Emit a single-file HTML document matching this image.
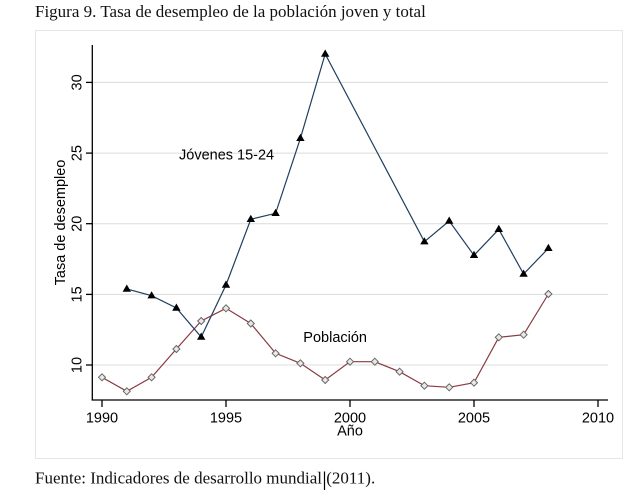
<!DOCTYPE html>
<html><head><meta charset="utf-8"><style>
html,body{margin:0;padding:0;background:#fff;}
svg{display:block;}
</style></head><body>
<svg width="644" height="495" viewBox="0 0 644 495" xmlns="http://www.w3.org/2000/svg">
<rect width="644" height="495" fill="#fff"/>
<text x="35" y="17" font-family="Liberation Serif, serif" font-size="17" fill="#111">Figura 9. Tasa de desempleo de la población joven y total</text>
<rect x="35.5" y="30.5" width="587" height="428" fill="#fff" stroke="#e6e6e6" stroke-width="1"/>
<!-- gridlines -->
<g stroke="#dcdcdc" stroke-width="1">
<line x1="92" y1="82.4" x2="608" y2="82.4"/>
<line x1="92" y1="153.1" x2="608" y2="153.1"/>
<line x1="92" y1="223.7" x2="608" y2="223.7"/>
<line x1="92" y1="294.4" x2="608" y2="294.4"/>
<line x1="92" y1="365" x2="608" y2="365"/>
</g>
<!-- axes -->
<g stroke="#000" stroke-width="1.3">
<line x1="92.3" y1="45" x2="92.3" y2="400.5"/>
<line x1="91.7" y1="400" x2="608" y2="400"/>
<line x1="86" y1="82.4" x2="92" y2="82.4"/>
<line x1="86" y1="153.1" x2="92" y2="153.1"/>
<line x1="86" y1="223.7" x2="92" y2="223.7"/>
<line x1="86" y1="294.4" x2="92" y2="294.4"/>
<line x1="86" y1="365" x2="92" y2="365"/>
<line x1="102" y1="400" x2="102" y2="407"/>
<line x1="226" y1="400" x2="226" y2="407"/>
<line x1="350" y1="400" x2="350" y2="407"/>
<line x1="474" y1="400" x2="474" y2="407"/>
<line x1="598" y1="400" x2="598" y2="407"/>
</g>
<g font-family="Liberation Sans, sans-serif" font-size="14.5" fill="#000">
<text transform="translate(81.5,82.4) rotate(-90)" text-anchor="middle">30</text>
<text transform="translate(81.5,153.1) rotate(-90)" text-anchor="middle">25</text>
<text transform="translate(81.5,223.7) rotate(-90)" text-anchor="middle">20</text>
<text transform="translate(81.5,294.4) rotate(-90)" text-anchor="middle">15</text>
<text transform="translate(81.5,365) rotate(-90)" text-anchor="middle">10</text>
<text transform="translate(65,222.5) rotate(-90)" text-anchor="middle">Tasa de desempleo</text>
<text x="102" y="422.3" text-anchor="middle">1990</text>
<text x="226" y="422.3" text-anchor="middle">1995</text>
<text x="350" y="422.3" text-anchor="middle">2000</text>
<text x="474" y="422.3" text-anchor="middle">2005</text>
<text x="598" y="422.3" text-anchor="middle">2010</text>
<text x="350" y="435.5" text-anchor="middle">Año</text>
<text x="179" y="159.5">Jóvenes 15-24</text>
<text x="303.3" y="342">Población</text>
</g>
<!-- Poblacion series -->
<polyline fill="none" stroke="#8a3a40" stroke-width="1.2" points="102,377.3 126.8,391.3 151.6,377.3 176.4,349 201.2,321 226,308.3 250.8,323.5 275.6,353.3 300.4,363.3 325.2,380 350,361.7 374.8,361.7 399.6,371.7 424.4,385.7 449.2,387.3 474,382.7 498.8,337.3 523.6,334.7 548.4,294"/>
<g fill="#e8e8e8" stroke="#666" stroke-width="1">
<path d="M102,373.8 l3.5,3.5 l-3.5,3.5 l-3.5,-3.5z"/>
<path d="M126.8,387.8 l3.5,3.5 l-3.5,3.5 l-3.5,-3.5z"/>
<path d="M151.6,373.8 l3.5,3.5 l-3.5,3.5 l-3.5,-3.5z"/>
<path d="M176.4,345.5 l3.5,3.5 l-3.5,3.5 l-3.5,-3.5z"/>
<path d="M201.2,317.5 l3.5,3.5 l-3.5,3.5 l-3.5,-3.5z"/>
<path d="M226,304.8 l3.5,3.5 l-3.5,3.5 l-3.5,-3.5z"/>
<path d="M250.8,320 l3.5,3.5 l-3.5,3.5 l-3.5,-3.5z"/>
<path d="M275.6,349.8 l3.5,3.5 l-3.5,3.5 l-3.5,-3.5z"/>
<path d="M300.4,359.8 l3.5,3.5 l-3.5,3.5 l-3.5,-3.5z"/>
<path d="M325.2,376.5 l3.5,3.5 l-3.5,3.5 l-3.5,-3.5z"/>
<path d="M350,358.2 l3.5,3.5 l-3.5,3.5 l-3.5,-3.5z"/>
<path d="M374.8,358.2 l3.5,3.5 l-3.5,3.5 l-3.5,-3.5z"/>
<path d="M399.6,368.2 l3.5,3.5 l-3.5,3.5 l-3.5,-3.5z"/>
<path d="M424.4,382.2 l3.5,3.5 l-3.5,3.5 l-3.5,-3.5z"/>
<path d="M449.2,383.8 l3.5,3.5 l-3.5,3.5 l-3.5,-3.5z"/>
<path d="M474,379.2 l3.5,3.5 l-3.5,3.5 l-3.5,-3.5z"/>
<path d="M498.8,333.8 l3.5,3.5 l-3.5,3.5 l-3.5,-3.5z"/>
<path d="M523.6,331.2 l3.5,3.5 l-3.5,3.5 l-3.5,-3.5z"/>
<path d="M548.4,290.5 l3.5,3.5 l-3.5,3.5 l-3.5,-3.5z"/>
</g>
<!-- Jovenes series -->
<polyline fill="none" stroke="#1f3f5f" stroke-width="1.2" points="126.8,289 151.6,295.7 176.4,308 201.2,337 226,285 250.8,219.3 275.6,213.3 300.4,138.3 325.2,54 424.4,241.7 449.2,221 474,255.3 498.8,229.3 523.6,274 548.4,248.3"/>
<g fill="#000">
<path d="M126.8,284.5 l4.2,7.2 l-8.4,0z"/>
<path d="M151.6,291.2 l4.2,7.2 l-8.4,0z"/>
<path d="M176.4,303.5 l4.2,7.2 l-8.4,0z"/>
<path d="M201.2,332.5 l4.2,7.2 l-8.4,0z"/>
<path d="M226,280.5 l4.2,7.2 l-8.4,0z"/>
<path d="M250.8,214.8 l4.2,7.2 l-8.4,0z"/>
<path d="M275.6,208.8 l4.2,7.2 l-8.4,0z"/>
<path d="M300.4,133.8 l4.2,7.2 l-8.4,0z"/>
<path d="M325.2,49.5 l4.2,7.2 l-8.4,0z"/>
<path d="M424.4,237.2 l4.2,7.2 l-8.4,0z"/>
<path d="M449.2,216.5 l4.2,7.2 l-8.4,0z"/>
<path d="M474,250.8 l4.2,7.2 l-8.4,0z"/>
<path d="M498.8,224.8 l4.2,7.2 l-8.4,0z"/>
<path d="M523.6,269.5 l4.2,7.2 l-8.4,0z"/>
<path d="M548.4,243.8 l4.2,7.2 l-8.4,0z"/>
</g>
<text x="35" y="483.5" font-family="Liberation Serif, serif" font-size="17" fill="#111">Fuente: Indicadores de desarrollo mundial (2011).</text>
<line x1="324.5" y1="471.5" x2="324.5" y2="490" stroke="#000" stroke-width="1.2"/>
</svg>
</body></html>
